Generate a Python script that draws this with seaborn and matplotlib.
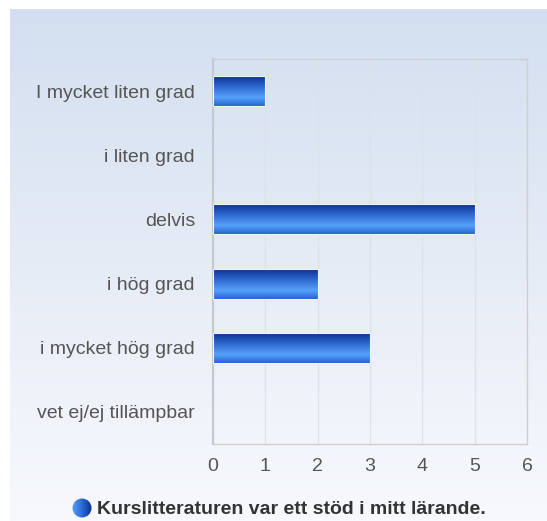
import numpy as np
import pandas as pd
import matplotlib
matplotlib.use("Agg")
import matplotlib.pyplot as plt
import seaborn as sns
from matplotlib.colors import LinearSegmentedColormap

categories = ["I mycket liten grad", "i liten grad", "delvis", "i hög grad",
              "i mycket hög grad", "vet ej/ej tillämpbar"]
counts = [1, 0, 5, 2, 3, 0]
x_ticks = [0, 1, 2, 3, 4, 5, 6]
title = "Kurslitteraturen var ett stöd i mitt lärande."

df = pd.DataFrame({"svar": categories, "antal": counts})

sns.set_style("white")
plt.rcParams['font.family'] = ['Liberation Sans', 'DejaVu Sans']

fig = plt.figure(figsize=(5.47, 5.21), dpi=100)

# background panel with soft vertical gradient
bg = fig.add_axes([10 / 547, 0, 1 - 10 / 547, 1 - 9 / 521], zorder=-5)
grad = np.linspace(0, 1, 256).reshape(-1, 1)
bg_cmap = LinearSegmentedColormap.from_list("bg", ["#d3dff0", "#e6ecf6", "#f7f9fd"])
bg.imshow(grad, aspect="auto", cmap=bg_cmap, extent=[0, 1, 0, 1], origin="upper")
bg.set_axis_off()

ax = fig.add_axes([213 / 547, 1 - 444 / 521, (527 - 213) / 547, (444 - 59) / 521])
ax.patch.set_alpha(0)

sns.barplot(data=df, x="antal", y="svar", order=categories, ax=ax,
            color="#2a6ad8", width=0.47, edgecolor="#eef3fb", linewidth=0.8)

# gradient fill for the bars
bar_cmap = LinearSegmentedColormap.from_list(
    "bar", [(0, "#082c8a"), (0.35, "#2c64cc"), (0.72, "#56a2fa"), (1, "#2463cf")])
for p in ax.patches:
    w = p.get_width()
    if w <= 0:
        continue
    x0, y0, h = p.get_x(), p.get_y(), p.get_height()
    im = ax.imshow(grad, aspect="auto", cmap=bar_cmap,
                   extent=[x0, x0 + w, y0 + h, y0], origin="upper", zorder=3)
    im.set_clip_path(p)
    p.set_zorder(4)
    p.set_facecolor("none")

ax.set_xlim(0, 6)
ax.set_ylim(len(categories) - 0.5, -0.5)
ax.set_xticks(x_ticks)
ax.set_xlabel("")
ax.set_ylabel("")
ax.grid(axis="x", color="#dde2ea", linewidth=1)
ax.set_axisbelow(True)
for side, sp in ax.spines.items():
    sp.set_visible(True)
    sp.set_color("#cfcfcf")
    sp.set_linewidth(1)
ax.spines["left"].set_color("#c4c8d0")
ax.spines["left"].set_linewidth(1.5)
ax.tick_params(axis="y", length=0, pad=13, labelsize=14, labelcolor="#555555")
ax.tick_params(axis="x", length=0, pad=10, labelsize=14, labelcolor="#555555")

# legend-like title with round marker
fig.text(97 / 547, 1 - 509 / 521, title, fontsize=14, fontweight="bold",
         color="#333333", va="center", ha="left")
dot = fig.add_axes([72 / 547, 1 - 518 / 521, 20 / 547, 20 / 521])
dot_cmap = LinearSegmentedColormap.from_list("dot", ["#5aa0f0", "#2a6ad8", "#0a2f8f"])
dot.imshow(np.linspace(0, 1, 64).reshape(1, -1), aspect="auto", cmap=dot_cmap,
           extent=[-1, 1, -1, 1])
circ = plt.Circle((0, 0), 0.95, transform=dot.transData)
dot.images[0].set_clip_path(circ)
dot.set_xlim(-1, 1)
dot.set_ylim(-1, 1)
dot.set_axis_off()

fig.savefig("out.png", dpi=100)
